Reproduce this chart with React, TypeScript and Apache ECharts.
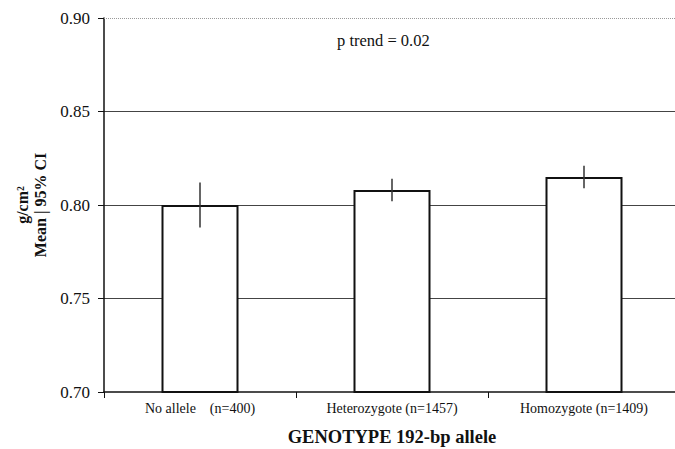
import React, { useEffect, useRef } from "react";
import * as echarts from "echarts";

const categories = ["No allele    (n=400)", "Heterozygote (n=1457)", "Homozygote (n=1409)"];
const means = [0.8, 0.808, 0.815];
const ciLow = [0.788, 0.802, 0.809];
const ciHigh = [0.812, 0.814, 0.821];
const yTicks = { min: 0.7, max: 0.9, interval: 0.05 };

const FONT = "'Liberation Serif', 'DejaVu Serif', serif";

export default function App() {
  const ref = useRef<HTMLDivElement>(null);
  useEffect(() => {
    if (!ref.current) return;
    const chart = echarts.init(ref.current, null, { renderer: "svg" });
    const errData = categories.map((_, i) => [i, ciLow[i], ciHigh[i]]);
    chart.setOption({
      animation: false,
      backgroundColor: "#fff",
      textStyle: { fontFamily: FONT },
      grid: { left: 104, right: -5, top: 18, bottom: 57, outerBoundsMode: "none", containLabel: false },
      graphic: [
        {
          type: "text",
          left: 337,
          top: 32,
          style: { text: "p trend = 0.02", font: `16.5px ${FONT}`, fill: "#111" },
        },
      ],
      xAxis: {
        type: "category",
        data: categories,
        axisLine: { lineStyle: { color: "#111", width: 1.5 } },
        axisTick: { show: true, length: 6, lineStyle: { color: "#111" } },
        axisLabel: { color: "#111", fontSize: 14, fontFamily: FONT, margin: 9 },
        name: "GENOTYPE 192-bp allele",
        nameLocation: "middle",
        nameGap: 35,
        nameTextStyle: { color: "#111", fontSize: 18.5, fontWeight: "bold", fontFamily: FONT },
      },
      yAxis: {
        type: "value",
        min: yTicks.min,
        max: yTicks.max,
        interval: yTicks.interval,
        axisLine: { show: true, lineStyle: { color: "#111", width: 1.5 } },
        axisTick: { show: true, length: 6, lineStyle: { color: "#111" } },
        axisLabel: {
          color: "#111",
          fontSize: 17,
          fontFamily: FONT,
          margin: 14,
          formatter: (v: number) => v.toFixed(2),
        },
        splitLine: {
          show: true,
          lineStyle: { color: ["transparent", "#444", "#444", "#444", "transparent"], width: 1 },
        },
        name: "g/cm²\nMean | 95% CI",
        nameLocation: "middle",
        nameRotate: 90,
        nameGap: 55,
        nameTextStyle: {
          color: "#111",
          fontSize: 16,
          fontWeight: "bold",
          fontFamily: FONT,
          lineHeight: 18,
        },
      },
      series: [
        {
          type: "bar",
          data: means,
          barWidth: 77,
          itemStyle: { color: "#fff", borderColor: "#111", borderWidth: 2 },
          markLine: {
            silent: true,
            symbol: "none",
            label: { show: false },
            lineStyle: { color: "#999", type: "dotted", width: 1 },
            data: [{ yAxis: 0.9 }],
          },
        },
        {
          type: "custom",
          data: errData,
          z: 5,
          renderItem: (params: any, api: any) => {
            const x = api.value(0);
            const lo = api.coord([x, api.value(1)]);
            const hi = api.coord([x, api.value(2)]);
            return {
              type: "line",
              shape: { x1: lo[0], y1: lo[1], x2: hi[0], y2: hi[1] },
              style: { stroke: "#333", lineWidth: 1.5 },
            };
          },
        },
      ],
    });
    return () => chart.dispose();
  }, []);
  return (
    <div
      ref={ref}
      style={{ position: "fixed", left: 0, top: 0, width: 675, height: 449, background: "#fff" }}
    />
  );
}
